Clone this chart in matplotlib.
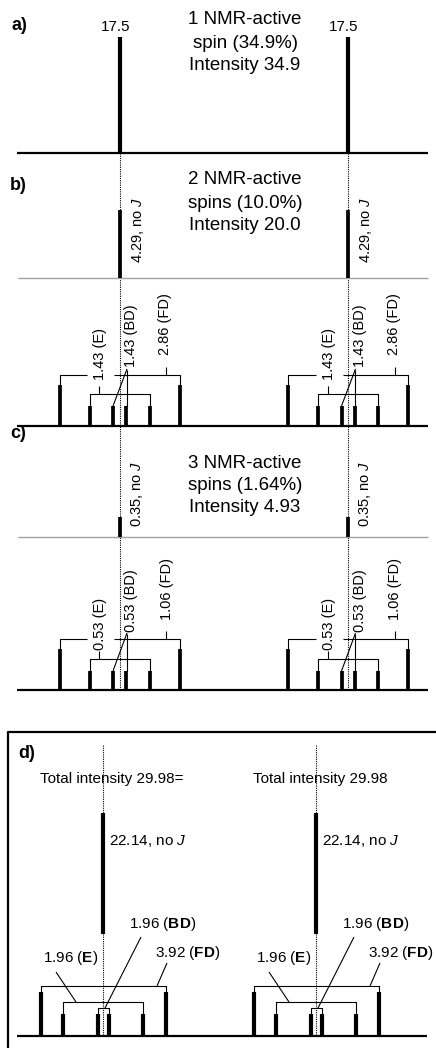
import matplotlib
matplotlib.use("Agg")
import matplotlib.pyplot as plt

plt.rcParams['font.family'] = ['Liberation Sans', 'DejaVu Sans']
plt.rcParams['mathtext.fontset'] = 'custom'
plt.rcParams['mathtext.rm'] = 'Liberation Sans'
plt.rcParams['mathtext.it'] = 'Liberation Sans:italic'
plt.rcParams['mathtext.bf'] = 'Liberation Sans:bold'

# ---- values written on the schematic ----
panel_tags = ["a)", "b)", "c)", "d)"]
a_lines = ["1 NMR-active", "spin (34.9%)", "Intensity 34.9"]
b_lines = ["2 NMR-active", "spins (10.0%)", "Intensity 20.0"]
c_lines = ["3 NMR-active", "spins (1.64%)", "Intensity 4.93"]
a_value = 17.5
b_noJ = 4.29
b_split = [1.43, 1.43, 2.86]      # E, BD, FD
c_noJ = 0.35
c_split = [0.53, 0.53, 1.06]      # E, BD, FD
d_total = 29.98
d_noJ = 22.14
d_split = [1.96, 1.96, 3.92]      # E, BD, FD
split_names = ["E", "BD", "FD"]

# drawn stick heights (schematic, not to scale), px
a_height = 116
b_heights = [68, 20, 41]          # no J, inner/middle, outer
c_heights = [20, 19, 41]
d_heights = [121, 22, 44]

# line offsets from the multiplet centre (inner, middle, outer), px
abc_offsets = [6.5, 30, 60]
d_offsets = [5.5, 40, 62.5]

fig = plt.figure(figsize=(4.36, 10.48), dpi=100)
ax = fig.add_axes([0, 0, 1, 1])
ax.set_xlim(0, 436)
ax.set_ylim(1048, 0)
ax.axis('off')

STICK = 2.7
THIN = 0.8
GREY = '#a0a0a0'
DOT = (0, (1, 1))
centres_abc = [119.5, 348]
centres_d = [103, 316]


def stick(x, y0, h, lw=STICK):
    ax.vlines(x, y0 - h, y0, colors='black', lw=lw)


def seg(xs, ys):
    ax.plot(xs, ys, color='black', lw=THIN, solid_capstyle='butt')


def block(lines, ys):
    for s, y in zip(lines, ys):
        ax.text(245, y, s, ha='center', va='center', fontsize=13.5)


# ---- panel a ----
base_a = 153
ax.hlines(base_a, 17, 428, colors='black', lw=1.6)
for cx in centres_abc:
    stick(cx, base_a, a_height, lw=3)
    ax.text(cx - 4, base_a - a_height - 10, f"{a_value}", ha='center', va='center', fontsize=11)
block(a_lines, [20, 43, 65])

# dotted guide lines through a-c
ax.vlines(centres_abc, base_a, 690, colors='black', lw=0.8, linestyles=DOT)


def uncoupled(cx, y0, h, value, dx, bottom):
    stick(cx, y0, h)
    ax.text(cx + dx, y0 - bottom, f"{value}, no $J$", rotation=90,
            ha='center', va='bottom', fontsize=10.5)


def multiplet_bc(cx, y0, heights, split, lab):
    ins, mid, out = abc_offsets
    h_in, h_out = heights[1], heights[2]
    for dx in (-out, out):
        stick(cx + dx, y0, h_out)
    for dx in (-mid, -ins, ins, mid):
        stick(cx + dx, y0, h_in)
    yb = y0 - h_out - 10
    ym = y0 - h_in - 12
    # outer (FD) bracket, broken behind the E label
    seg([cx - out, cx - out, cx - 32.5], [y0 - h_out, yb, yb])
    seg([cx - 5.5, cx + out, cx + out], [yb, yb, y0 - h_out])
    # middle (E) bracket
    seg([cx - mid, cx - mid, cx + mid, cx + mid], [y0 - h_in, ym, ym, y0 - h_in])
    seg([cx - 20.5, cx - 20.5], [ym - 8, ym])
    # BD leaders
    seg([cx + ins + 0.5, cx + ins + 0.5], [y0 - 56.5, y0 - h_in])
    seg([cx + ins + 1, cx - ins], [y0 - 57, y0 - h_in])
    # FD leader
    seg([cx + 46.5, cx + 46.5], [y0 - 59, yb])
    xs = [cx - 19.5, cx + 11.5, cx + lab[3]]
    for v, name, x, b in zip(split, split_names, xs, lab[:3]):
        ax.text(x, y0 - b, f"{v:.2f} ({name})", rotation=90,
                ha='center', va='bottom', fontsize=10.5)


# ---- panel b ----
b_top_base = 278
b_base = 426
ax.hlines(b_top_base, 18, 428, colors=GREY, lw=1.0)
ax.hlines(b_base, 17, 428, colors='black', lw=1.6)
block(b_lines, [180, 203, 225])
for cx in centres_abc:
    uncoupled(cx, b_top_base, b_heights[0], b_noJ, 18, 15)
    multiplet_bc(cx, b_base, b_heights, b_split, [46, 59, 71, 45.5])

# ---- panel c ----
c_top_base = 537
c_base = 690
ax.hlines(c_top_base, 18, 428, colors=GREY, lw=1.0)
ax.hlines(c_base, 17, 428, colors='black', lw=1.6)
block(c_lines, [463, 485, 507])
for cx in centres_abc:
    uncoupled(cx, c_top_base, c_heights[0], c_noJ, 17, 10)
    multiplet_bc(cx, c_base, c_heights, c_split, [40, 58, 70, 47])

# ---- panel d ----
ax.plot([8, 8, 436], [1048, 732, 732], color='black', lw=1.6)
d_base = 1036
ax.hlines(d_base, 17, 427, colors='black', lw=1.6)
ax.vlines(centres_d, 745, d_base, colors='black', lw=0.8, linestyles=DOT)
totals = [f"Total intensity {d_total}=", f"Total intensity {d_total}"]
for cx, tot in zip(centres_d, totals):
    ax.text(cx - 63, 779, tot, ha='left', va='center', fontsize=11)
    ins, mid, out = d_offsets
    h_free, h_in, h_out = d_heights
    ax.vlines(cx, 934 - h_free, 934, colors='black', lw=3)
    ax.text(cx + 5.5, 841, f"{d_noJ}, no $J$", ha='left', va='center', fontsize=11)
    for dx in (-out, out):
        stick(cx + dx, d_base, h_out, lw=3)
    for dx in (-mid, -ins, ins, mid):
        stick(cx + dx, d_base, h_in, lw=3)
    yo = d_base - h_out - 6
    ym = d_base - h_in - 12
    yi = d_base - h_in - 6
    seg([cx - out, cx - out, cx + out, cx + out], [d_base - h_out, yo, yo, d_base - h_out])
    seg([cx - mid, cx - mid, cx + mid, cx + mid], [d_base - h_in, ym, ym, d_base - h_in])
    seg([cx - ins, cx - ins, cx + ins, cx + ins], [d_base - h_in, yi, yi, d_base - h_in])
    # leaders
    seg([cx - 47, cx - 27], [d_base - 64, ym])
    seg([cx + 38, cx + 2], [d_base - 99, yi])
    seg([cx + 64, cx + 54], [d_base - 73, yo])
    labs = [(cx - 60, d_base - 78), (cx + 26, d_base - 112), (cx + 52, d_base - 83)]
    for v, name, (x, y) in zip(d_split, split_names, labs):
        ax.text(x, y, f"{v:.2f} ($\\mathbf{{{name}}}$)", ha='left', va='center', fontsize=11)

# panel tags
for tag, (x, y) in zip(panel_tags, [(11, 26), (10, 185), (10, 433), (18, 753)]):
    ax.text(x, y, tag, ha='left', va='center', fontsize=13, fontweight='bold')

fig.savefig("out.png", dpi=100)
